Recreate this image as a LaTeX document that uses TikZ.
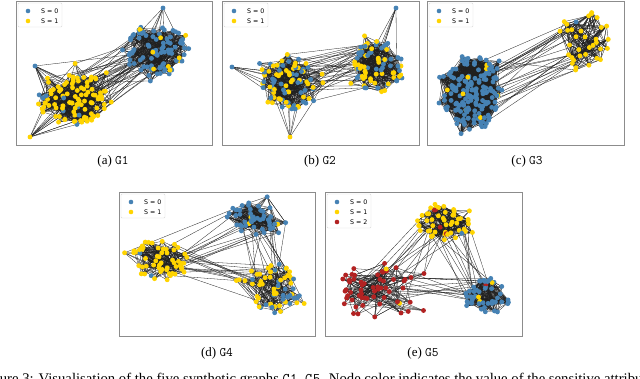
\documentclass[tikz,border=0pt]{standalone}
\usepackage{fontspec}
\setmainfont{Liberation Serif}
\newfontfamily\legfont{DejaVu Sans}
\definecolor{gc1}{RGB}{70,130,180}
\definecolor{gc2}{RGB}{255,212,0}
\definecolor{gc3}{RGB}{178,34,34}
\tikzset{
  lnk/.style={draw=black!88, line width=0.3pt},
  frame/.style={draw=black!45, line width=0.8pt},
  legbox/.style={draw=black!15, line width=0.4pt, fill=white, rounded corners=1pt},
  legtxt/.style={anchor=west, inner sep=0pt, font=\legfont\fontsize{6.3}{7}\selectfont},
  subcap/.style={inner sep=0pt, font=\fontsize{13}{15}\selectfont},
}
% cluster: prefix, n, cx, cy, sx, sy, blue threshold, yellow threshold
\newcommand\mkcl[8]{%
  \foreach \i in {1,...,#2}{%
    \pgfmathsetmacro\ang{360*rnd}%
    \pgfmathsetmacro\rr{sqrt(rnd)*(1+0.3*(rnd>0.92))}%
    \coordinate (#1-\i) at ({#3+#5*\rr*cos(\ang)},{#4+#6*\rr*sin(\ang)});%
    \pgfmathsetmacro\cc{rnd}%
    \pgfmathtruncatemacro\ci{\cc<#7 ? 1 : (\cc<#8 ? 2 : 3)}%
    \expandafter\xdef\csname nc@#1@\i\endcsname{\ci}%
  }}
% intra edges: prefix, n, per node
\newcommand\mkin[3]{%
  \foreach \i in {1,...,#2}{\foreach \k in {1,...,#3}{%
    \pgfmathtruncatemacro\j{random(1,#2)}%
    \draw[lnk] (#1-\i) -- (#1-\j);}}}
% inter edges: p1, n1, p2, n2, count
\newcommand\mkx[5]{%
  \foreach \k in {1,...,#5}{%
    \pgfmathtruncatemacro\i{random(1,#2)}%
    \pgfmathtruncatemacro\j{random(1,#4)}%
    \draw[lnk] (#1-\i) -- (#3-\j);}}
% dots
\newcommand\mkdots[2]{%
  \foreach \i in {1,...,#2}{%
    \edef\cn{gc\csname nc@#1@\i\endcsname}%
    \fill[color=\cn] (#1-\i) circle (2.45pt);}}
% legend: left, top, count
\newcommand\mkleg[3]{%
  \ifnum#3=3
    \draw[legbox] (#1+2,#2+2) rectangle (#1+46,#2+36);
  \else
    \draw[legbox] (#1+2,#2+2) rectangle (#1+46,#2+26);
  \fi
  \foreach \s/\c in {0/1,1/2,2/3}{%
    \ifnum\s<#3
      \fill[gc\c] (#1+12,#2+10+10*\s) circle (2.3pt);
      \node[legtxt] at (#1+25,#2+10+10*\s) {S = \s};
    \fi}}
\begin{document}
\begin{tikzpicture}[x=1pt,y=-1pt]
\useasboundingbox (0,0) rectangle (640,379);
\pgfmathsetseed{4242}
% ---------- G1
\mkcl{aB}{95}{158}{50}{32}{27}{0.88}{1.1}
\mkcl{aY}{110}{72}{97}{36}{28}{0.1}{1.1}
\coordinate (aB-95) at (163,8);
\coordinate (aY-110) at (30,137);
\coordinate (aY-109) at (35,66);
\mkin{aB}{95}{5}
\mkin{aY}{110}{5}
\mkx{aB}{95}{aY}{110}{45}
\mkdots{aB}{95}
\mkdots{aY}{110}
% ---------- G2
\mkcl{bL}{90}{288}{82}{30}{28}{0.45}{1.1}
\mkcl{bR}{85}{378}{66}{25}{26}{0.5}{1.1}
\coordinate (bL-90) at (232,67);
\coordinate (bL-89) at (290,137);
\coordinate (bR-85) at (396,8);
\mkin{bL}{90}{5}
\mkin{bR}{85}{5}
\mkx{bL}{90}{bR}{85}{35}
\mkdots{bL}{90}
\mkdots{bR}{85}
% ---------- G3
\mkcl{cB}{170}{471}{92}{28}{38}{0.98}{1.1}
\mkcl{cY}{35}{583}{40}{28}{29}{0.06}{1.1}
\mkin{cB}{170}{12}
\mkin{cY}{35}{6}
\mkx{cB}{170}{cY}{35}{28}
\mkdots{cB}{170}
\mkdots{cY}{35}
% ---------- G4
\mkcl{dB}{50}{253}{218}{26}{18}{0.95}{1.1}
\mkcl{dY}{60}{160}{262}{30}{23}{0.03}{1.1}
\mkcl{dM}{65}{272}{288}{32}{26}{0.45}{1.1}
\mkin{dB}{50}{6}
\mkin{dY}{60}{4}
\mkin{dM}{65}{3}
\mkx{dB}{50}{dY}{60}{12}
\mkx{dB}{50}{dM}{65}{16}
\mkx{dY}{60}{dM}{65}{16}
\mkdots{dB}{50}
\mkdots{dY}{60}
\mkdots{dM}{65}
% ---------- G5
\mkcl{eY}{55}{443}{222}{26}{19}{0.02}{0.94}
\mkcl{eR}{60}{378}{292}{42}{29}{0.0}{0.02}
\mkcl{eB}{50}{488}{296}{24}{18}{0.94}{0.98}
\mkin{eY}{55}{5}
\mkin{eR}{60}{3}
\mkin{eB}{50}{6}
\mkx{eY}{55}{eR}{60}{14}
\mkx{eY}{55}{eB}{50}{14}
\mkx{eR}{60}{eB}{50}{14}
\mkdots{eY}{55}
\mkdots{eR}{60}
\mkdots{eB}{50}
% ---------- frames
\draw[frame] (16,1) rectangle (212,145);
\draw[frame] (222,1) rectangle (419,145);
\draw[frame] (427,1) rectangle (624,145);
\draw[frame] (119,192) rectangle (315,336);
\draw[frame] (325,192) rectangle (522,336);
\mkleg{16}{1}{2}
\mkleg{222}{1}{2}
\mkleg{427}{1}{2}
\mkleg{119}{192}{2}
\mkleg{325}{192}{3}
% ---------- captions
\node[subcap] (ca) at (113,161) {(a) \texttt{G1}};
\node[subcap] (cb) at (320,161) {(b) \texttt{G2}};
\node[subcap] (cc) at (527,161) {(c) \texttt{G3}};
\node[subcap] (cd) at (217,353) {(d) \texttt{G4}};
\node[subcap] (ce) at (423,353) {(e) \texttt{G5}};
\begin{scope}
\clip (0,0) rectangle (640,379);
\node[anchor=base west, inner sep=0pt, font=\fontsize{14.7}{16}\selectfont] (fig) at (-20,384)
  {Figure 3: Visualisation of the five synthetic graphs \texttt{G1}–\texttt{G5}. Node color indicates the value of the sensitive attribute.};
\end{scope}
\end{tikzpicture}
\end{document}
